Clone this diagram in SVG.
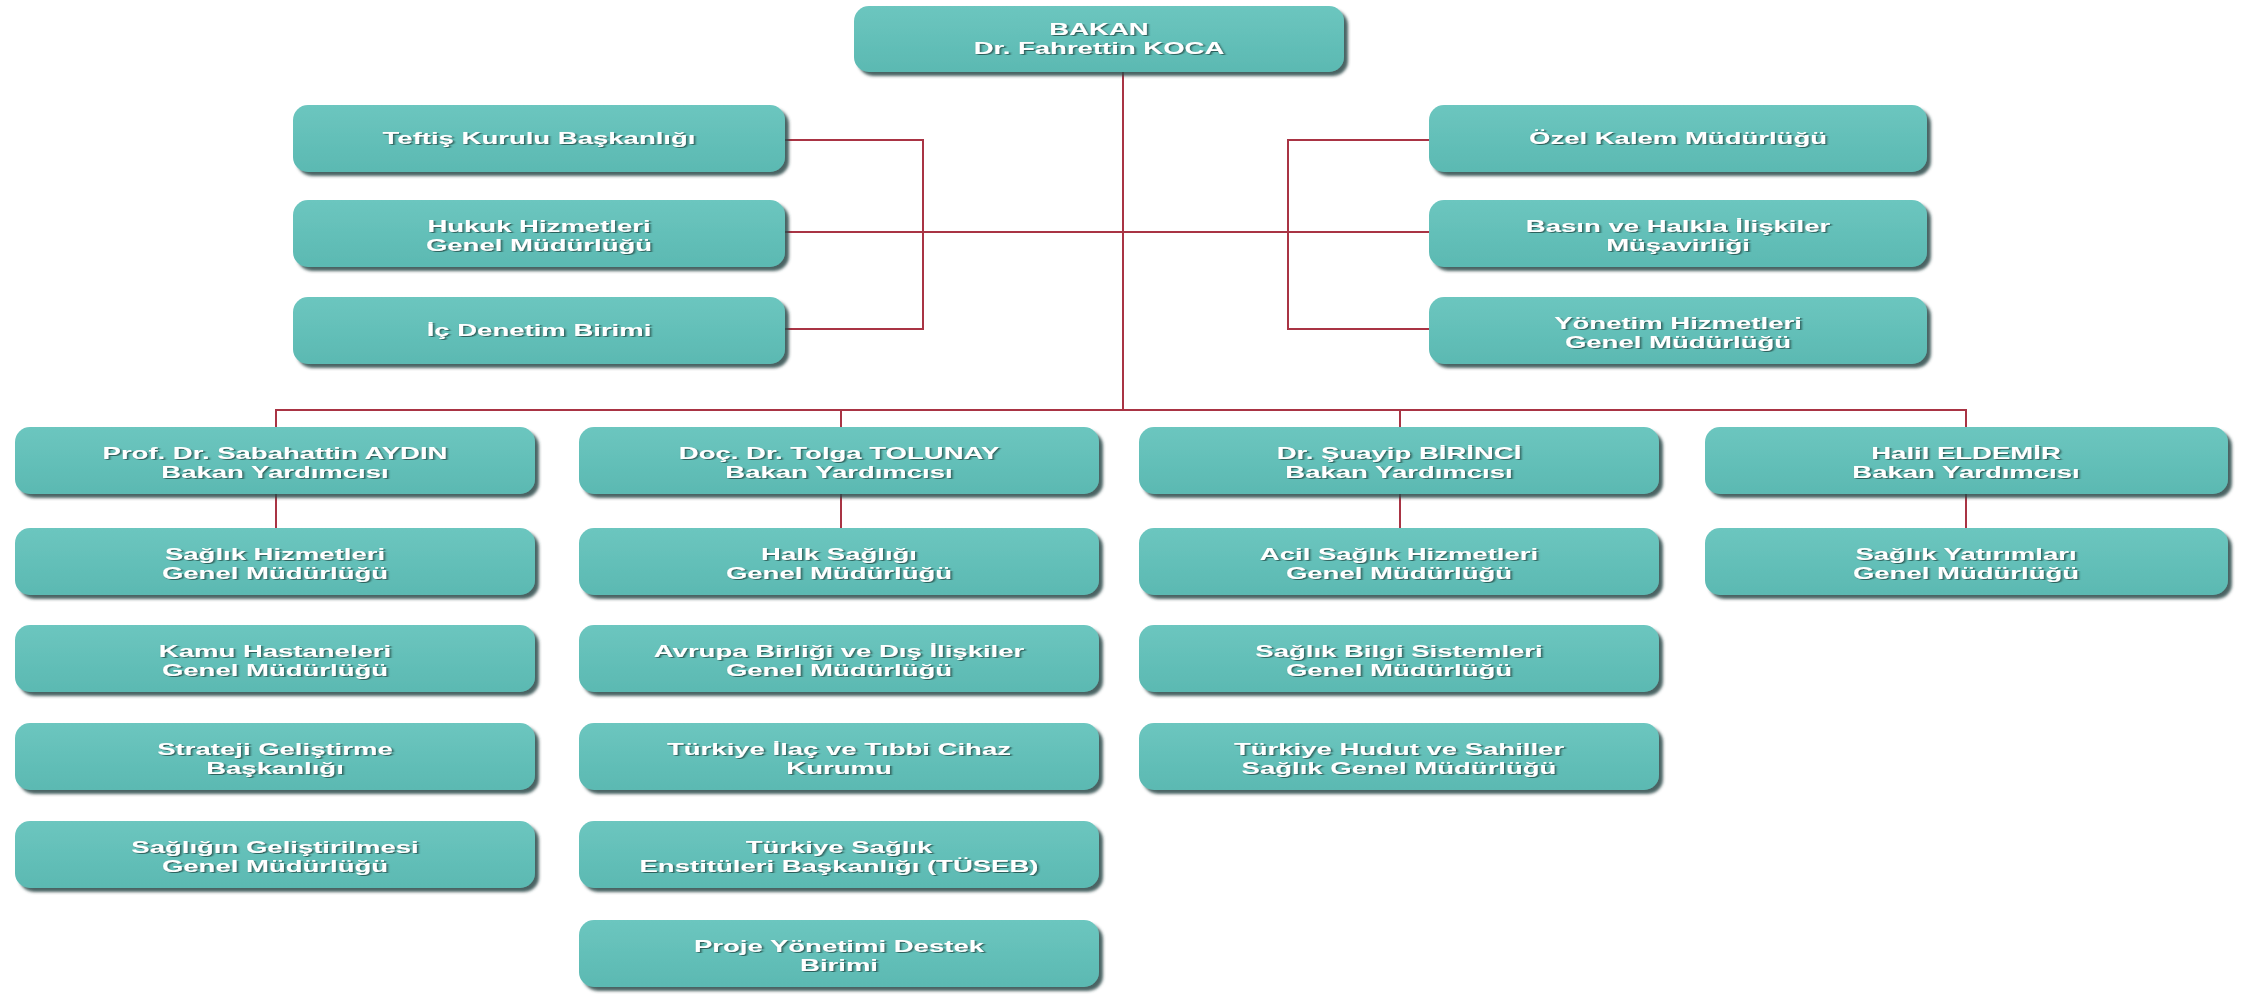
<svg xmlns="http://www.w3.org/2000/svg" width="2247" height="998" viewBox="0 0 2247 998">
<style>
.box{fill:url(#g);filter:url(#sh)}
.t{font-family:"Liberation Sans",Arial,sans-serif;font-weight:bold;font-size:16px;fill:#ffffff;text-anchor:middle;filter:url(#ts)}
.c{stroke:#a93444;stroke-width:2;fill:none}
</style>
<defs>
<linearGradient id="g" x1="0" y1="0" x2="0" y2="1">
<stop offset="0" stop-color="#6cc6bf"/>
<stop offset="1" stop-color="#5bb9b2"/>
</linearGradient>
<filter id="sh" x="-5%" y="-20%" width="112%" height="150%">
<feDropShadow dx="4" dy="4" stdDeviation="1.6" flood-color="#2c4846" flood-opacity="0.85"/>
</filter>
<filter id="ts" x="-10%" y="-50%" width="120%" height="200%">
<feDropShadow dx="1" dy="1" stdDeviation="0.7" flood-color="#2a5451" flood-opacity="0.9"/>
</filter>
</defs>
<rect width="2247" height="998" fill="#ffffff"/>
<g id="connectors">
<path class="c" d="M1123 72 V410"/>
<path class="c" d="M785 140 H923 V329 H785"/>
<path class="c" d="M785 232 H1429"/>
<path class="c" d="M1429 140 H1288 V329 H1429"/>
<path class="c" d="M276 427 V410 H1966 V427"/>
<path class="c" d="M841 410 V427"/>
<path class="c" d="M1400 410 V427"/>
<path class="c" d="M276 494 V528"/>
<path class="c" d="M841 494 V528"/>
<path class="c" d="M1400 494 V528"/>
<path class="c" d="M1966 494 V528"/>
</g>
<g id="bakan"><rect class="box" x="854" y="6" width="490" height="66" rx="15"/><text class="t" transform="matrix(1.72 0 0 1 1099 0)"><tspan x="0" y="35">BAKAN</tspan><tspan x="0" y="54">Dr. Fahrettin KOCA</tspan></text></g>
<g id="teftis"><rect class="box" x="293" y="105" width="492" height="67" rx="15"/><text class="t" transform="matrix(1.72 0 0 1 539 0)"><tspan x="0" y="144">Teftiş Kurulu Başkanlığı</tspan></text></g>
<g id="hukuk"><rect class="box" x="293" y="200" width="492" height="67" rx="15"/><text class="t" transform="matrix(1.72 0 0 1 539 0)"><tspan x="0" y="232">Hukuk Hizmetleri</tspan><tspan x="0" y="251">Genel Müdürlüğü</tspan></text></g>
<g id="icdenetim"><rect class="box" x="293" y="297" width="492" height="67" rx="15"/><text class="t" transform="matrix(1.72 0 0 1 539 0)"><tspan x="0" y="336">İç Denetim Birimi</tspan></text></g>
<g id="ozelkalem"><rect class="box" x="1429" y="105" width="498" height="67" rx="15"/><text class="t" transform="matrix(1.72 0 0 1 1678 0)"><tspan x="0" y="144">Özel Kalem Müdürlüğü</tspan></text></g>
<g id="basin"><rect class="box" x="1429" y="200" width="498" height="67" rx="15"/><text class="t" transform="matrix(1.72 0 0 1 1678 0)"><tspan x="0" y="232">Basın ve Halkla İlişkiler</tspan><tspan x="0" y="251">Müşavirliği</tspan></text></g>
<g id="yonetim"><rect class="box" x="1429" y="297" width="498" height="67" rx="15"/><text class="t" transform="matrix(1.72 0 0 1 1678 0)"><tspan x="0" y="329">Yönetim Hizmetleri</tspan><tspan x="0" y="348">Genel Müdürlüğü</tspan></text></g>

<g id="aydin"><rect class="box" x="15" y="427" width="520" height="67" rx="15"/><text class="t" transform="matrix(1.72 0 0 1 275 0)"><tspan x="0" y="459">Prof. Dr. Sabahattin AYDIN</tspan><tspan x="0" y="478">Bakan Yardımcısı</tspan></text></g>
<g id="shgm"><rect class="box" x="15" y="528" width="520" height="67" rx="15"/><text class="t" transform="matrix(1.72 0 0 1 275 0)"><tspan x="0" y="560">Sağlık Hizmetleri</tspan><tspan x="0" y="579">Genel Müdürlüğü</tspan></text></g>
<g id="kamu"><rect class="box" x="15" y="625" width="520" height="67" rx="15"/><text class="t" transform="matrix(1.72 0 0 1 275 0)"><tspan x="0" y="657">Kamu Hastaneleri</tspan><tspan x="0" y="676">Genel Müdürlüğü</tspan></text></g>
<g id="strateji"><rect class="box" x="15" y="723" width="520" height="67" rx="15"/><text class="t" transform="matrix(1.72 0 0 1 275 0)"><tspan x="0" y="755">Strateji Geliştirme</tspan><tspan x="0" y="774">Başkanlığı</tspan></text></g>
<g id="sgelistirme"><rect class="box" x="15" y="821" width="520" height="67" rx="15"/><text class="t" transform="matrix(1.72 0 0 1 275 0)"><tspan x="0" y="853">Sağlığın Geliştirilmesi</tspan><tspan x="0" y="872">Genel Müdürlüğü</tspan></text></g>

<g id="tolunay"><rect class="box" x="579" y="427" width="520" height="67" rx="15"/><text class="t" transform="matrix(1.72 0 0 1 839 0)"><tspan x="0" y="459">Doç. Dr. Tolga TOLUNAY</tspan><tspan x="0" y="478">Bakan Yardımcısı</tspan></text></g>
<g id="halk"><rect class="box" x="579" y="528" width="520" height="67" rx="15"/><text class="t" transform="matrix(1.72 0 0 1 839 0)"><tspan x="0" y="560">Halk Sağlığı</tspan><tspan x="0" y="579">Genel Müdürlüğü</tspan></text></g>
<g id="avrupa"><rect class="box" x="579" y="625" width="520" height="67" rx="15"/><text class="t" transform="matrix(1.72 0 0 1 839 0)"><tspan x="0" y="657">Avrupa Birliği ve Dış İlişkiler</tspan><tspan x="0" y="676">Genel Müdürlüğü</tspan></text></g>
<g id="ilac"><rect class="box" x="579" y="723" width="520" height="67" rx="15"/><text class="t" transform="matrix(1.72 0 0 1 839 0)"><tspan x="0" y="755">Türkiye İlaç ve Tıbbi Cihaz</tspan><tspan x="0" y="774">Kurumu</tspan></text></g>
<g id="tuseb"><rect class="box" x="579" y="821" width="520" height="67" rx="15"/><text class="t" transform="matrix(1.72 0 0 1 839 0)"><tspan x="0" y="853">Türkiye Sağlık</tspan><tspan x="0" y="872">Enstitüleri Başkanlığı (TÜSEB)</tspan></text></g>
<g id="proje"><rect class="box" x="579" y="920" width="520" height="67" rx="15"/><text class="t" transform="matrix(1.72 0 0 1 839 0)"><tspan x="0" y="952">Proje Yönetimi Destek</tspan><tspan x="0" y="971">Birimi</tspan></text></g>

<g id="birinci"><rect class="box" x="1139" y="427" width="520" height="67" rx="15"/><text class="t" transform="matrix(1.72 0 0 1 1399 0)"><tspan x="0" y="459">Dr. Şuayip BİRİNCİ</tspan><tspan x="0" y="478">Bakan Yardımcısı</tspan></text></g>
<g id="acil"><rect class="box" x="1139" y="528" width="520" height="67" rx="15"/><text class="t" transform="matrix(1.72 0 0 1 1399 0)"><tspan x="0" y="560">Acil Sağlık Hizmetleri</tspan><tspan x="0" y="579">Genel Müdürlüğü</tspan></text></g>
<g id="bilgi"><rect class="box" x="1139" y="625" width="520" height="67" rx="15"/><text class="t" transform="matrix(1.72 0 0 1 1399 0)"><tspan x="0" y="657">Sağlık Bilgi Sistemleri</tspan><tspan x="0" y="676">Genel Müdürlüğü</tspan></text></g>
<g id="hudut"><rect class="box" x="1139" y="723" width="520" height="67" rx="15"/><text class="t" transform="matrix(1.72 0 0 1 1399 0)"><tspan x="0" y="755">Türkiye Hudut ve Sahiller</tspan><tspan x="0" y="774">Sağlık Genel Müdürlüğü</tspan></text></g>

<g id="eldemir"><rect class="box" x="1705" y="427" width="523" height="67" rx="15"/><text class="t" transform="matrix(1.72 0 0 1 1966 0)"><tspan x="0" y="459">Halil ELDEMİR</tspan><tspan x="0" y="478">Bakan Yardımcısı</tspan></text></g>
<g id="yatirim"><rect class="box" x="1705" y="528" width="523" height="67" rx="15"/><text class="t" transform="matrix(1.72 0 0 1 1966 0)"><tspan x="0" y="560">Sağlık Yatırımları</tspan><tspan x="0" y="579">Genel Müdürlüğü</tspan></text></g>
</svg>
